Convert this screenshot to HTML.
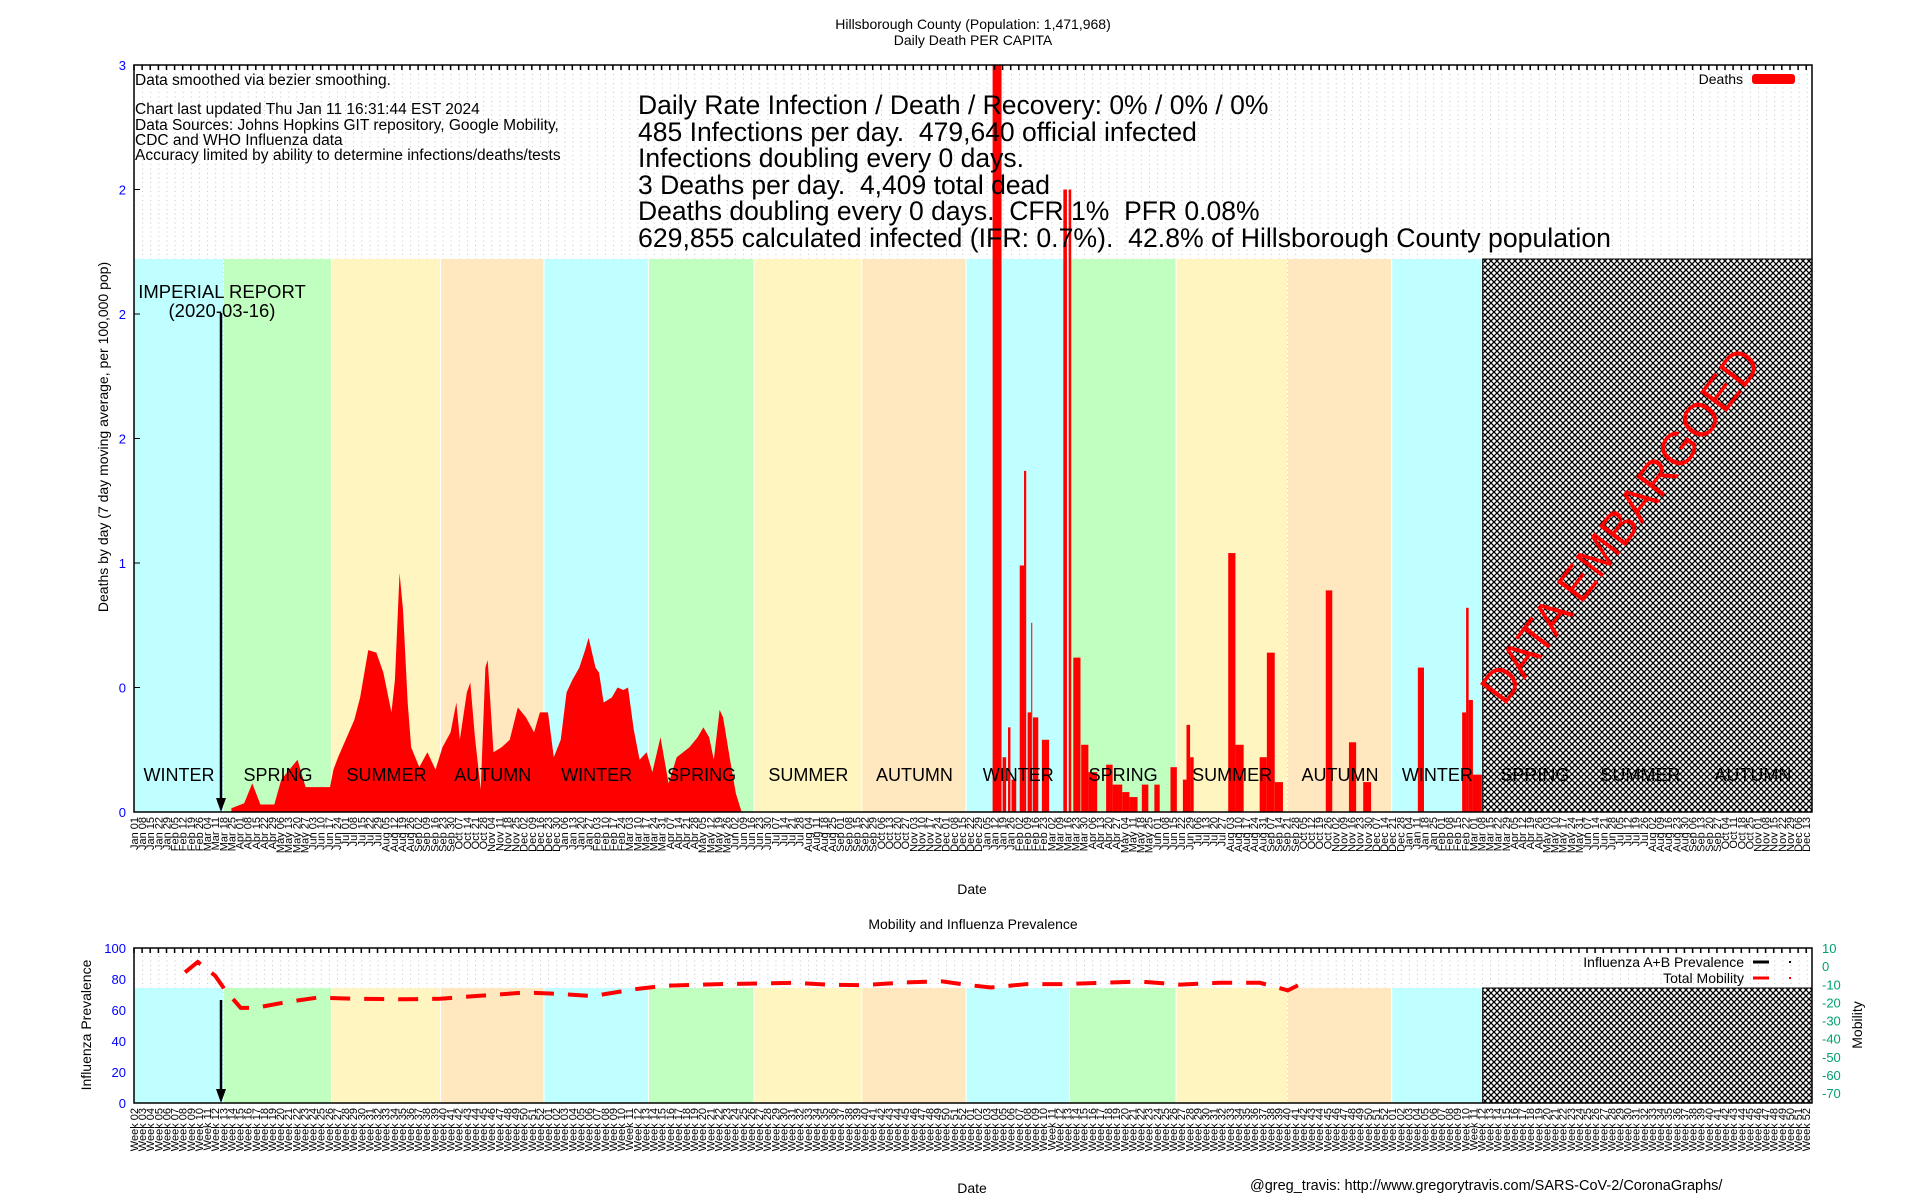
<!DOCTYPE html>
<html><head><meta charset="utf-8"><title>Hillsborough County Daily Death PER CAPITA</title>
<style>
html,body{margin:0;padding:0;background:#fff;}
svg{display:block;font-family:"Liberation Sans",sans-serif;}
</style></head>
<body>
<svg id="chart" width="1920" height="1200" viewBox="0 0 1920 1200" xmlns="http://www.w3.org/2000/svg">
<defs>
  <pattern id="dots" width="8.12" height="4.5" patternUnits="userSpaceOnUse" x="134" y="65">
    <rect x="0" y="0" width="1" height="1" fill="#c4c4c4"/>
  </pattern>
  <pattern id="hatch" width="6" height="6" patternUnits="userSpaceOnUse">
    <rect width="6" height="6" fill="#fff"/>
    <path d="M0,0 L6,6 M6,0 L0,6" stroke="#000" stroke-width="1.3"/>
  </pattern>
  <clipPath id="clipTop"><rect x="134" y="65" width="1678" height="747"/></clipPath>
  <clipPath id="clipBot"><rect x="134" y="948" width="1678" height="155"/></clipPath>
</defs>
<g id="layer"></g>
</svg>
<script>
// ---------- data ----------
const seasonStarts = [0, 77.6, 170.7, 264.7, 354, 444, 535, 628, 718, 807, 899, 995, 1085];
const seasonNames = ["WINTER","SPRING","SUMMER","AUTUMN","WINTER","SPRING","SUMMER","AUTUMN","WINTER","SPRING","SUMMER","AUTUMN","WINTER","SPRING","SUMMER","AUTUMN"];
const embargoStart = 1163;
const yTicks = [3, 2.5, 2, 1.5, 1, 0.5, 0];
const yTickLabels = ["3","2","2","2","1","0","0"];
const fluTicks = [100, 80, 60, 40, 20, 0];
const mobTicks = [10, 0, -10, -20, -30, -40, -50, -60, -70];
// smoothed deaths (days since 2020-01-01, per 100k)
const deathDays = [84,95,102,109,121,127,141,148,169,172,176,190,195,202,209,215,222,225,229,232,236,239,246,253,260,266,273,278,281,287,290,294,299,303,305,310,317,324,331,338,345,350,357,362,368,373,378,384,389,392,398,401,405,412,417,422,426,431,436,442,447,454,461,468,479,486,491,496,500,505,508,514,519,524];
const deathVals = [0.015,0.035,0.115,0.03,0.03,0.13,0.21,0.10,0.10,0.17,0.22,0.37,0.46,0.65,0.64,0.56,0.40,0.53,0.96,0.81,0.44,0.26,0.18,0.24,0.17,0.26,0.32,0.44,0.29,0.48,0.52,0.30,0.09,0.58,0.61,0.24,0.26,0.29,0.42,0.38,0.32,0.40,0.40,0.22,0.29,0.48,0.53,0.58,0.65,0.70,0.58,0.56,0.44,0.46,0.50,0.49,0.50,0.33,0.21,0.24,0.16,0.30,0.115,0.22,0.26,0.30,0.34,0.30,0.21,0.41,0.38,0.21,0.075,0];
// later weekly spikes
const spikeStart = [740.4,749,753.7,756.7,763.8,767.5,770.6,773.7,775.2,782.9,801.4,806,810,816.8,823,838.3,843.9,852.2,858.4,869.1,879.9,893.8,904.5,907.6,910.7,943.6,949.8,970.7,976.9,983.7,1027.7,1047.7,1060,1107.1,1145.3,1148.7,1150.9,1154.6];
const spikeEnd   = [748.1,752.1,755.8,760.8,767.5,769.4,773.7,774.6,779.8,789.1,804.5,808.2,816.2,823,830.6,843.9,852.2,858.4,865.4,874.7,884.5,899.3,907.6,910.7,913.8,949.8,956.9,976.9,983.7,990.8,1033.3,1053.9,1066.8,1112.4,1148.7,1150.9,1154.6,1162.3];
const spikeVals  = [3.2,0.22,0.34,0.13,0.99,1.37,0.40,0.76,0.38,0.29,2.5,2.5,0.62,0.27,0.16,0.19,0.11,0.08,0.06,0.11,0.11,0.18,0.13,0.35,0.22,1.04,0.27,0.22,0.64,0.12,0.89,0.28,0.12,0.58,0.40,0.82,0.45,0.15];
// mobility (right axis)
const mobDays = [44,55,70,78,92,105,132,158,190,232,264,295,337,359,396,432,458,505,538,570,601,628,665,697,718,739,770,802,834,868,902,936,971,995,1005];
const mobVals = [-3.4,2.3,-5.3,-12.7,-23,-23,-19.8,-17.4,-18,-18.3,-18,-16.5,-14.6,-15.1,-16.5,-12.7,-10.8,-9.9,-9.6,-9.2,-10.3,-10.5,-9,-8.4,-10.3,-11.8,-9.9,-9.9,-9.2,-8.5,-10.2,-9.2,-9.2,-13.4,-10.2];

// ---------- geometry ----------
const X0 = 134, X1 = 1812, DAYS = 1447;
const TY0 = 65, TY1 = 812, TBAND = 259;
const BY0 = 948, BY1 = 1103, BBAND = 988;
const xS = d => X0 + d * (X1 - X0) / DAYS;
const yS = v => TY1 - v * (TY1 - TY0) / 3;
const yFlu = v => BY1 - v * (BY1 - BY0) / 100;
const yMob = m => 948 + (10 - m) * 1.8125;

const NS = "http://www.w3.org/2000/svg";
const root = document.getElementById("layer");
function mk(tag, attrs, parent) {
  const e = document.createElementNS(NS, tag);
  for (const k in attrs) e.setAttribute(k, attrs[k]);
  (parent || root).appendChild(e);
  return e;
}
function txt(s, attrs, parent) { const e = mk("text", attrs, parent); e.textContent = s; return e; }
const colors = {WINTER:"#bfffff", SPRING:"#c0ffc0", SUMMER:"#fff5c0", AUTUMN:"#ffe8c0"};

// ---------- backgrounds ----------
function panel(y0, y1, bandTop, nm) {
  const g = mk("g", {});
  
  
  mk("rect", {x:X0, y:y0, width:X1-X0, height:y1-y0, fill:"url(#dots)"}, g);
  const bounds = seasonStarts.concat([embargoStart]);
  for (let i = 0; i < seasonStarts.length; i++) {
    const r = mk("rect", {x:xS(bounds[i]), y:bandTop, width:xS(bounds[i+1]) - xS(bounds[i]) - 1, height:y1-bandTop, fill:colors[seasonNames[i]]}, g);
    
    
  }
  const h = mk("rect", {x:xS(embargoStart), y:bandTop, width:X1-xS(embargoStart), height:y1-bandTop, fill:"url(#hatch)", stroke:"#000", "stroke-width":1}, g);
  
  
  return g;
}
panel(TY0, TY1, TBAND, "deaths");
panel(BY0, BY1, BBAND, "mobility");

// ---------- deaths ----------
const dg = mk("g", {"clip-path":"url(#clipTop)"});


let pts = [xS(deathDays[0]) + "," + yS(0)];
for (let i = 0; i < deathDays.length; i++) pts.push(xS(deathDays[i]) + "," + yS(deathVals[i]));
pts.push(xS(deathDays[deathDays.length-1]) + "," + yS(0));
const area = mk("polygon", {points:pts.join(" "), fill:"#ff0000"}, dg);


for (let i = 0; i < spikeStart.length; i++) {
  const r = mk("rect", {x:xS(spikeStart[i]), y:yS(spikeVals[i]), width:Math.max(1, xS(spikeEnd[i]) - xS(spikeStart[i])), height:yS(0) - yS(spikeVals[i]), fill:"#ff0000"}, dg);
  
  
}

// ---------- season labels (on top of data) ----------
const allBounds = seasonStarts.concat([embargoStart, 1253, 1345, DAYS]);
for (let i = 0; i < seasonNames.length; i++) {
  const cx = (xS(allBounds[i]) + xS(allBounds[i+1])) / 2;
  const t = txt(seasonNames[i], {x:cx, y:781, "text-anchor":"middle", "font-size":18, fill:"#000"});
  
  
}

// ---------- mobility ----------
const mg = mk("g", {"clip-path":"url(#clipBot)"});
const mp = mobDays.map((d, i) => xS(d) + "," + yMob(mobVals[i])).join(" ");
const ml = mk("polyline", {points:mp, fill:"none", stroke:"#ff0000", "stroke-width":4, "stroke-dasharray":"20,14"}, mg);



// ---------- embargo text ----------
const et = txt("DATA EMBARGOED", {x:0, y:17, "text-anchor":"middle", "font-size":48, fill:"#ff0000", textLength:430, lengthAdjust:"spacingAndGlyphs", transform:"translate(1620,525) rotate(-53)"});



// ---------- frames & ticks ----------
mk("rect", {x:X0, y:TY0, width:X1-X0, height:TY1-TY0, fill:"none", stroke:"#000", "stroke-width":1.5});
mk("rect", {x:X0, y:BY0, width:X1-X0, height:BY1-BY0, fill:"none", stroke:"#000", "stroke-width":1.5});
let tp = "";
for (let d = 0; d <= DAYS; d += 7) {
  const x = xS(d).toFixed(1);
  tp += `M${x},${TY0}v5M${x},${BY0}v5`;
}
mk("path", {d:tp, stroke:"#000", "stroke-width":1.5, fill:"none"});

yTicks.forEach((v, i) => {
  mk("line", {x1:X0, x2:X0+6, y1:yS(v), y2:yS(v), stroke:"#000"});
  const t = txt(yTickLabels[i], {x:126, y:yS(v)+5, "text-anchor":"end", "font-size":13, fill:"#0000ff"});
  
  
});
fluTicks.forEach(v => {
  const t = txt(String(v), {x:126, y:yFlu(v)+5, "text-anchor":"end", "font-size":13, fill:"#0000ff"});
  
  
});
mobTicks.forEach(v => {
  const t = txt(String(v), {x:1822, y:yMob(v)+5, "text-anchor":"start", "font-size":13, fill:"#00a070"});
  
  
});

const mon = ["Jan","Feb","Mar","Apr","May","Jun","Jul","Aug","Sep","Oct","Nov","Dec"];
const start = Date.UTC(2020,0,1);
let k = 0;
for (let d = 0; d <= DAYS; d += 7, k++) {
  const dt = new Date(start + d*86400000);
  const s = mon[dt.getUTCMonth()] + " " + String(dt.getUTCDate()).padStart(2,"0");
  const x = xS(d) + 4;
  const t = txt(s, {x:0, y:0, "text-anchor":"end", "font-size":11, fill:"#000", transform:`translate(${x.toFixed(1)},817) rotate(-90)`});
  
  
  const wk = ((k + 1) % 52) + 1;
  const t2 = txt("Week " + String(wk).padStart(2,"0"), {x:0, y:0, "text-anchor":"end", "font-size":11, fill:"#000", transform:`translate(${x.toFixed(1)},1108) rotate(-90)`});
  
  
}
</script>
<svg width="1920" height="1200" viewBox="0 0 1920 1200" xmlns="http://www.w3.org/2000/svg" style="position:absolute;left:0;top:0;font-family:'Liberation Sans',sans-serif">
  <text x="973" y="29" text-anchor="middle" font-size="14">Hillsborough County (Population: 1,471,968)</text>
  <text x="973" y="45" text-anchor="middle" font-size="14">Daily Death PER CAPITA</text>
  <g font-size="15.5">
    <text x="135" y="85">Data smoothed via bezier smoothing.</text>
    <text x="135" y="114">Chart last updated Thu Jan 11 16:31:44 EST 2024</text>
    <text x="135" y="130">Data Sources: Johns Hopkins GIT repository, Google Mobility,</text>
    <text x="135" y="145">CDC and WHO Influenza data</text>
    <text x="135" y="160">Accuracy limited by ability to determine infections/deaths/tests</text>
  </g>
  <g font-size="26.5">
    <text x="638" y="114" xml:space="preserve" style="white-space:pre">Daily Rate Infection / Death / Recovery: 0% / 0% / 0%</text>
    <text x="638" y="141" xml:space="preserve" style="white-space:pre">485 Infections per day.  479,640 official infected</text>
    <text x="638" y="167" xml:space="preserve" style="white-space:pre">Infections doubling every 0 days.</text>
    <text x="638" y="194" xml:space="preserve" style="white-space:pre">3 Deaths per day.  4,409 total dead</text>
    <text x="638" y="220" xml:space="preserve" style="white-space:pre">Deaths doubling every 0 days.  CFR 1%  PFR 0.08%</text>
    <text x="638" y="247" xml:space="preserve" style="white-space:pre" textLength="973" lengthAdjust="spacingAndGlyphs">629,855 calculated infected (IFR: 0.7%).  42.8% of Hillsborough County population</text>
  </g>
  <g>
    <text x="1743" y="84" text-anchor="end" font-size="14">Deaths</text>
    <rect x="1752" y="74" width="43" height="10" rx="3" fill="#ff0000"/>
  </g>
  <g>
    <text x="222" y="298" text-anchor="middle" font-size="18.5">IMPERIAL REPORT</text>
    <text x="222" y="317" text-anchor="middle" font-size="18.5">(2020-03-16)</text>
    <line x1="221" y1="313" x2="221" y2="800" stroke="#000" stroke-width="2.5"/>
    <polygon points="216,798 226,798 221,812" fill="#000"/>
    <line x1="221" y1="1000" x2="221" y2="1092" stroke="#000" stroke-width="2.5"/>
    <polygon points="216,1089 226,1089 221,1103" fill="#000"/>
  </g>
  <text transform="translate(108,437) rotate(-90)" text-anchor="middle" font-size="14">Deaths by day (7 day moving average, per 100,000 pop)</text>
  <text x="972" y="894" text-anchor="middle" font-size="14">Date</text>
  <text x="973" y="929" text-anchor="middle" font-size="14">Mobility and Influenza Prevalence</text>
  <text transform="translate(91,1025) rotate(-90)" text-anchor="middle" font-size="14">Influenza Prevalence</text>
  <text transform="translate(1862,1025) rotate(-90)" text-anchor="middle" font-size="14">Mobility</text>
  <g font-size="14">
    <text x="1744" y="967" text-anchor="end">Influenza A+B Prevalence</text>
    <line x1="1753" y1="962" x2="1769" y2="962" stroke="#000" stroke-width="3"/>
    <rect x="1789" y="961" width="2" height="2" fill="#000"/>
    <text x="1744" y="983" text-anchor="end">Total Mobility</text>
    <line x1="1753" y1="978" x2="1769" y2="978" stroke="#ff0000" stroke-width="3"/>
    <rect x="1789" y="977" width="2" height="2" fill="#ff0000"/>
  </g>
  <text x="972" y="1193" text-anchor="middle" font-size="14">Date</text>
  <text x="1250" y="1190" font-size="14.5">@greg_travis: http://www.gregorytravis.com/SARS-CoV-2/CoronaGraphs/</text>
</svg>
</body></html>
